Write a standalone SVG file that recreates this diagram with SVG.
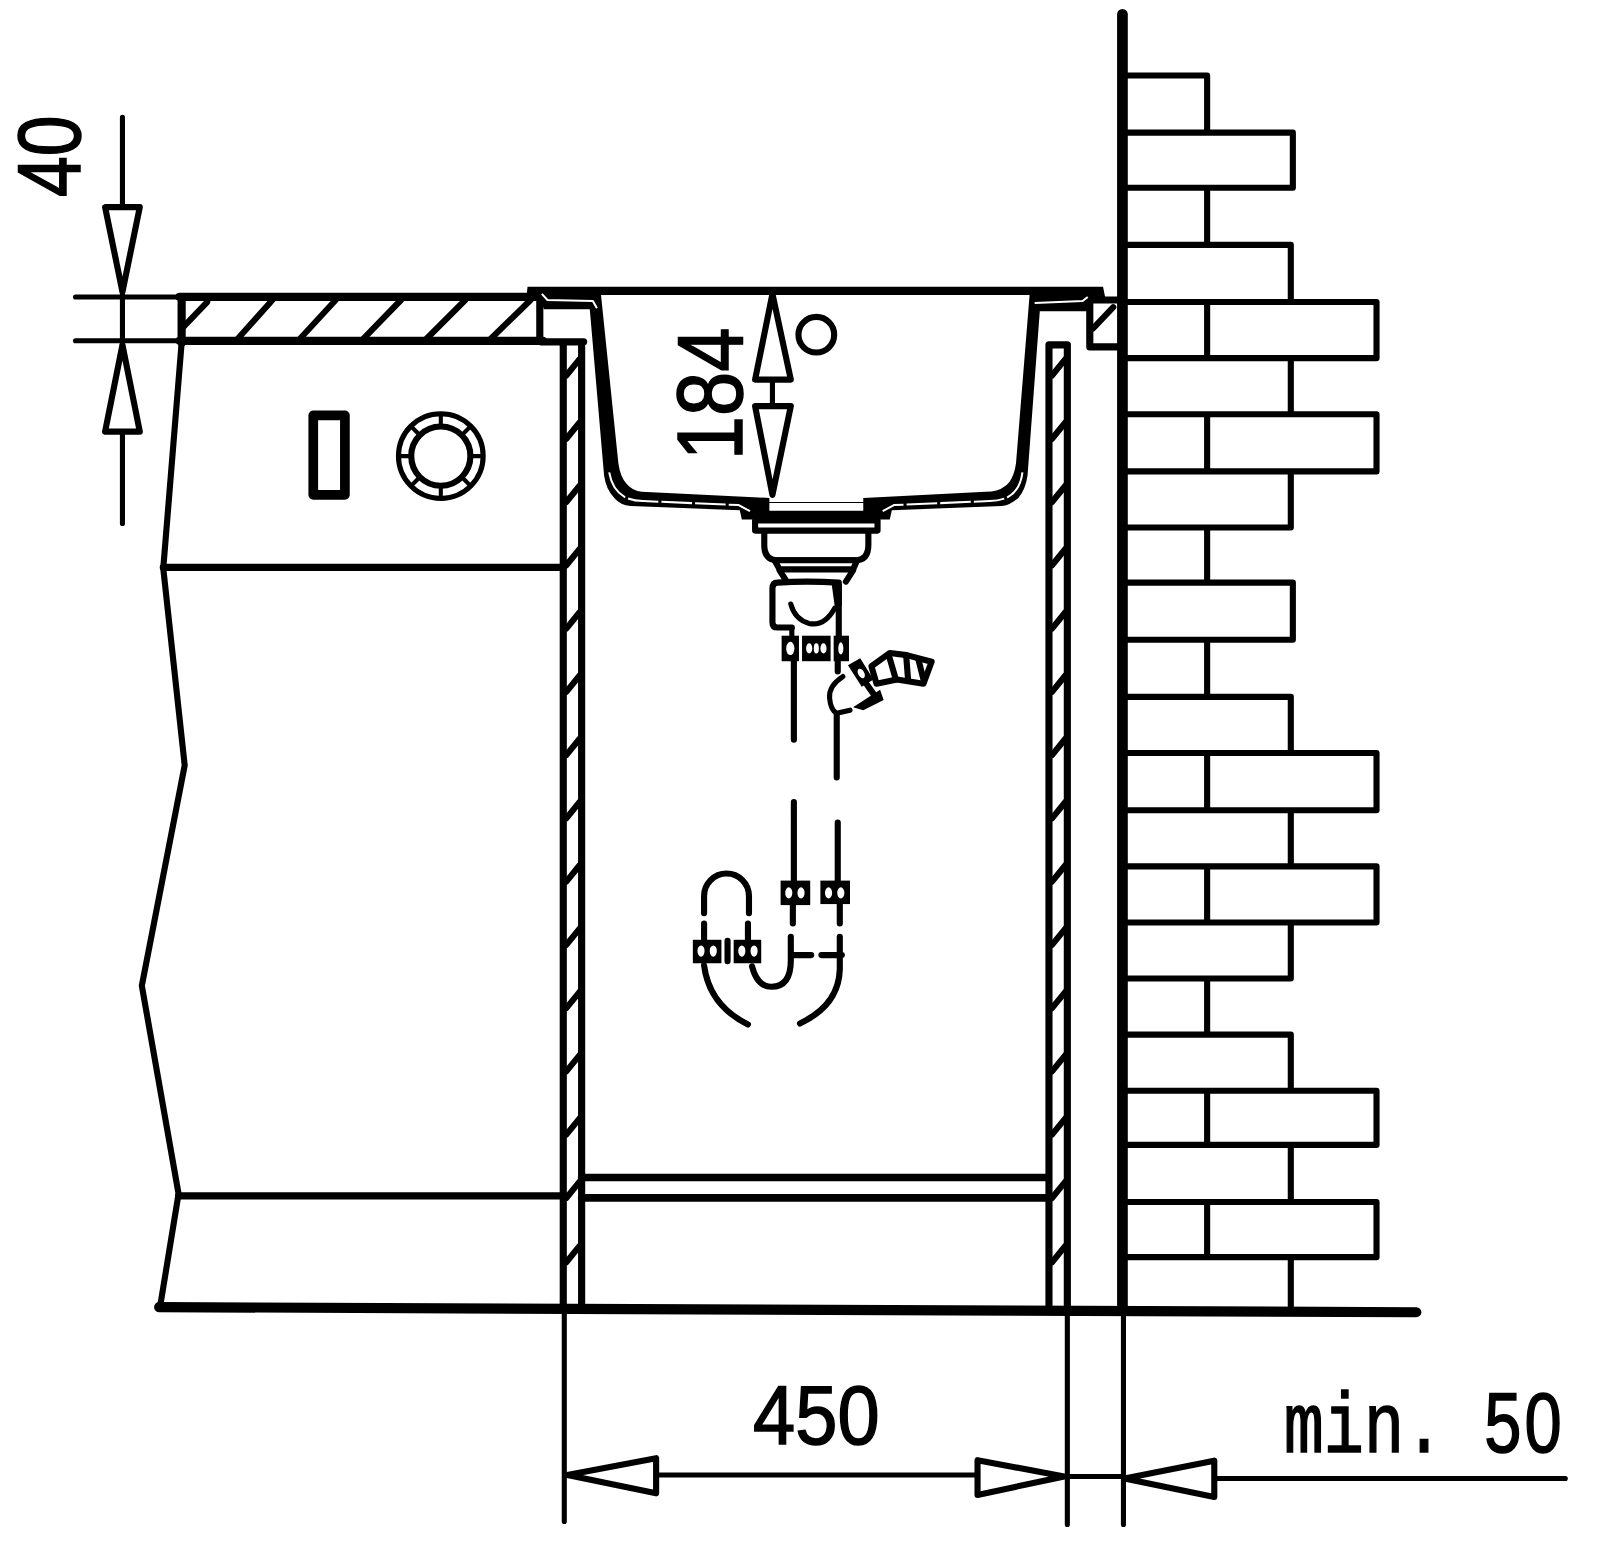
<svg xmlns="http://www.w3.org/2000/svg" width="1600" height="1543" viewBox="0 0 1600 1543">
<style>
.l{fill:none;stroke:#000;stroke-linejoin:round;stroke-linecap:round}
.s3{stroke-width:4}.s4{stroke-width:5}.s5{stroke-width:6}.s6{stroke-width:7}.s8{stroke-width:8}
.w{fill:#fff;stroke:#000;stroke-width:6;stroke-linejoin:round}
.k{fill:#000}
.d{fill:#fff}
.g{fill:none;stroke:#fff;stroke-width:2;stroke-linejoin:round}
.t{font-family:"Liberation Sans",Arial,sans-serif;fill:#000;stroke:#000;stroke-width:1.5}
</style>
<rect width="1600" height="1543" fill="#fff"/>
<g transform="scale(1.0204)">
<g id="wall">
<path class="l s5" d="M1105 74H1183V130M1105 130H1267V184H1105M1183 184V240M1105 240H1265V296M1105 296H1349V351H1105M1183 296V351M1265 351V406M1105 406H1349V462H1105M1183 406V462M1265 462V517H1105M1183 517V571M1105 571H1267V627H1105M1183 627V683M1105 683H1265V738M1105 738H1349V794H1105M1183 738V794M1265 794V849M1105 849H1349V904H1105M1183 849V904M1265 904V959H1105M1183 959V1014M1105 1014H1265V1069M1105 1069H1349V1122H1105M1183 1069V1122M1265 1122V1178M1105 1178H1349V1232H1105M1183 1178V1232M1265 1232V1283"/>
<path class="l" stroke-width="10.5" d="M1100 14V1284"/>
</g>
<g id="floor">
<path class="l" stroke-width="10" d="M156 1281L1388 1286"/>
</g>
<g id="counter">
<path class="l s4" d="M74 291H176M74 334H176"/>
<path class="l" stroke-width="8" d="M176 291H527M176 334H532M178 291V336"/>
<path class="l s6" d="M529 291V334"/>
<path class="l s5" d="M180 320L203 296M233 332L267 294M294 332L329 294M356 332L393 294M418 332L456 294M481 332L520 294"/>
<path class="l s6" d="M1068 297V340H1097M1063 294H1098"/>
<path class="l s5" d="M1071 322L1091 301"/>
</g>
<g id="cabinet">
<path class="l s5" d="M178 336L160 557L181 750L139 966L175 1170L157 1280"/>
<path class="l s6" d="M160 556H552M175 1172H552"/>
<path class="l s6" d="M530 335H572M552 336V1283M570 336V1283M1028 338H1046M1028 338V1283M1046 338V1283"/>
<path class="l" stroke-width="7.500" d="M570 1154H1027M570 1174H1027"/>
<path class="l s5" d="M555 368L568 352M555 430L568 414M555 492L568 476M555 554L568 538M555 616L568 600M555 678L568 662M555 740L568 724M555 802L568 786M555 864L568 848M555 926L568 910M555 988L568 972M555 1050L568 1034M555 1112L568 1096M555 1174L568 1158M555 1237L568 1221"/>
<path class="l s5" d="M1031 368L1044 352M1031 430L1044 414M1031 492L1044 476M1031 554L1044 538M1031 616L1044 600M1031 678L1044 662M1031 740L1044 724M1031 802L1044 786M1031 864L1044 848M1031 926L1044 910M1031 988L1044 972M1031 1050L1044 1034M1031 1112L1044 1096M1031 1174L1044 1158M1031 1237L1044 1221"/>
</g>
<g id="outlet">
<rect class="l" stroke-width="9.500" x="307" y="407" width="31" height="78"/>
<circle class="l s4" cx="432" cy="447" r="41.500"/>
<circle class="l s5" cx="432" cy="447" r="29"/>
<path class="l s3" d="M432 418V406M432 476V488M403 447H391M461 447H473M411.500 426.500L403 418M452.500 426.500L461 418M411.500 467.500L403 476M452.500 467.500L461 476"/>
</g>
<g id="sink">
<path class="k" d="M517 281H1081L1083 291H1068L1068 305H1019L1007 466Q1005 480 998 488Q990 495 982 496L874 500L872 509H727L725 500L618 496Q608 495 602 488Q594 480 592 466L578 303H533L529 290H516Z"/>
<path d="M589 289H1009L995.700 454Q993 472 984 477Q978 482 966 482L846 488V492H754V488L629 482Q620 481 614 474Q608 468 606 454Z" fill="#fff"/>
<path d="M754 493H846V500.500H754Z" fill="#fff"/>
<path class="g" d="M531 288L536.500 294L581 295L585 302M1014 297L1061 295L1066 291"/>
<path class="g" stroke-dasharray="30 3" d="M597 463Q600 480 612 487Q620 491 630 491L724 495L735 501M1002 463Q1000 480 988 487Q980 491 970 491L876 495L865 501"/>
<rect class="w" x="740" y="510" width="120" height="10"/>
<path class="l s5" d="M749 521V534Q749 549 762 549H838Q851 549 851 534V521"/>
<path class="w" d="M759 549H840L836 558H764Z"/>
<path class="l s5" d="M764 559L771 570M836 559L829 570"/>
<path class="l s5" d="M762 571Q790 569 822 571V624M762 571Q757 571 757 577V610Q757 615 762 615H776"/>
<path class="k" d="M815 572H825V594H818Z"/>
<path class="l s4" d="M775 592Q779 607 793 611Q808 614 818 596"/>
<path class="l s4" d="M776 616V624"/>
<rect class="k" x="766" y="623" width="17" height="25"/>
<rect class="k" x="786" y="623" width="28" height="25"/>
<rect class="k" x="817" y="623" width="15" height="25"/>
<ellipse class="d" cx="774.500" cy="635.500" rx="4" ry="6.500"/>
<ellipse class="d" cx="793" cy="635.500" rx="3" ry="5"/>
<ellipse class="d" cx="800" cy="635.500" rx="2.500" ry="5"/>
<ellipse class="d" cx="807" cy="635.500" rx="3" ry="5"/>
<ellipse class="d" cx="824" cy="635.500" rx="2.500" ry="6"/>
<path class="l s5" d="M778 648V725M821 648V658M820 700V762M778 786V864M821 806V864M777 887V905M823 885V905M775 918V941Q775 967 756 967Q742 967 737 947M775 936H795M805 936H825M823 918V950Q822 985 784 1003M690 946Q695 985 733 1004"/>
<path class="l s4" d="M826 663Q812 672 813 684Q814 696 820 699L833 696"/>
<path class="w" d="M854 653L872 640L888.500 642L913 648.500L905 670L879 666L859 670Z"/>
<path class="l s5" d="M871 642L878 666M888 642L890 667M900 646L905 666"/>
<path class="k" d="M831 652L843 645L856 666L844.500 673ZM836 693L862.500 676L866 686L846 696Z"/>
<path class="l s5" d="M849 670L856 680"/>
<ellipse class="d" cx="844" cy="660" rx="3" ry="5" transform="rotate(-30 844 660)"/>
<rect class="k" x="765" y="863" width="29" height="24"/>
<rect class="k" x="804" y="863" width="29" height="23"/>
<ellipse class="d" cx="773" cy="875" rx="3.500" ry="5.500"/>
<ellipse class="d" cx="785" cy="875" rx="3.500" ry="5.500"/>
<ellipse class="d" cx="812" cy="875" rx="3.500" ry="5.500"/>
<ellipse class="d" cx="824" cy="875" rx="3.500" ry="5.500"/>
<path class="l s5" d="M690 895V878A22 22 0 0 1 734 878V895M690 905V921M733 905V921M713 922V942"/>
<rect class="k" x="679" y="921" width="28" height="23"/>
<rect class="k" x="719" y="921" width="27" height="23"/>
<ellipse class="d" cx="687" cy="932" rx="3.500" ry="5.500"/>
<ellipse class="d" cx="699" cy="932" rx="3.500" ry="5.500"/>
<ellipse class="d" cx="727" cy="932" rx="3.500" ry="5.500"/>
<ellipse class="d" cx="739" cy="932" rx="3.500" ry="5.500"/>
<circle class="l s5" cx="800" cy="328" r="17.500"/>
</g>
<g id="dimensions">
<path class="l s4" d="M120 115V203M120 286V338M120 423V513M757 372V398M553 1285V1491M1046 1285V1494M1101 1285V1494M643 1445.500H958M1043 1447H1102M1190 1449H1534"/>
<path class="w" d="M103 203H137L120 286ZM103 423H137L120 338ZM740 372H775L757 288ZM740 398H775L757 485ZM556 1445.500L643 1429V1463.500ZM1043 1447L958 1431V1465ZM1102 1449L1190 1431.500V1467Z"/>
<text class="t" font-size="88" textLength="80" lengthAdjust="spacingAndGlyphs" transform="translate(78 193) rotate(-90)">40</text>
<text class="t" font-size="90" textLength="130" lengthAdjust="spacingAndGlyphs" transform="translate(727 451) rotate(-90)">184</text>
<text class="t" font-size="82" x="738" y="1415" textLength="124" lengthAdjust="spacingAndGlyphs">450</text>
<text class="t" font-size="84" transform="translate(1258 1423) scale(.78 1)"><tspan font-family="Liberation Mono,monospace">min. </tspan><tspan letter-spacing="4">50</tspan></text>
</g>
</g>
</svg>
